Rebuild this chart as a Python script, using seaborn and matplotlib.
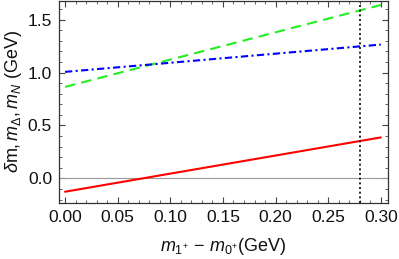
import numpy as np
import pandas as pd
import matplotlib
matplotlib.use('Agg')
import matplotlib.pyplot as plt
import seaborn as sns
from matplotlib.ticker import MultipleLocator

# values
x_vals = [0.00, 0.10, 0.20, 0.30]
dm_vals = [-0.126, 0.045, 0.216, 0.387]       # red solid
m_delta_vals = [0.864, 1.122, 1.380, 1.638]   # green dashed
m_n_vals = [1.006, 1.092, 1.178, 1.264]       # blue dash-dot
x_cut = 0.28

sns.set_style("ticks")
plt.rcParams['font.family'] = ['Liberation Sans', 'DejaVu Sans']
plt.rcParams['mathtext.fontset'] = 'custom'
plt.rcParams['mathtext.rm'] = 'Liberation Sans'
plt.rcParams['mathtext.it'] = 'Liberation Sans:italic'
plt.rcParams['font.size'] = 12.5

fig = plt.figure(figsize=(3.99, 2.59), dpi=100)
ax = fig.add_axes([0.148, 0.216, 0.824, 0.782])

df = pd.DataFrame({'x': x_vals, 'dm': dm_vals, 'mD': m_delta_vals, 'mN': m_n_vals})

ax.axhline(0, color='#999999', lw=0.8, zorder=1)
sns.lineplot(data=df, x='x', y='dm', ax=ax, color='#ff0000', lw=1.5)
sns.lineplot(data=df, x='x', y='mD', ax=ax, color='#22ee22', lw=1.5, dashes=False)
ax.lines[-1].set_dashes([5, 3])
sns.lineplot(data=df, x='x', y='mN', ax=ax, color='#0000ff', lw=1.5)
ax.lines[-1].set_dashes([3.5, 1.6, 1, 1.6])
ax.axvline(x_cut, color='black', lw=1.2, ls=(0, (1.2, 1.6)))

ax.set_xlim(-0.0057, 0.3066)
ax.set_ylim(-0.233, 1.68)
ax.xaxis.set_major_locator(MultipleLocator(0.05))
ax.xaxis.set_minor_locator(MultipleLocator(0.01))
ax.yaxis.set_major_locator(MultipleLocator(0.5))
ax.yaxis.set_minor_locator(MultipleLocator(0.1))
ax.xaxis.set_major_formatter(plt.FuncFormatter(lambda v, p: f'{v:.2f}'))
ax.yaxis.set_major_formatter(plt.FuncFormatter(lambda v, p: f'{v:.1f}'))
ax.tick_params(which='both', direction='in', top=True, right=True, color='#444444')
ax.tick_params(which='major', length=4, width=0.8, labelsize=12.5, pad=5, labelcolor='#111111')
ax.tick_params(which='minor', length=2.2, width=0.6)
for s in ax.spines.values():
    s.set_linewidth(0.9)
    s.set_color('#333333')

ax.set_xlabel(r'$m_{1^{+}}\,-\,m_{0^{+}}$(GeV)', fontsize=13, labelpad=8, color='#111111')
ax.set_ylabel(r'$\delta\mathrm{m},m_{\Delta},m_{N}$ (GeV)', fontsize=13, labelpad=3, color='#111111')

fig.savefig('out.png', dpi=100)
